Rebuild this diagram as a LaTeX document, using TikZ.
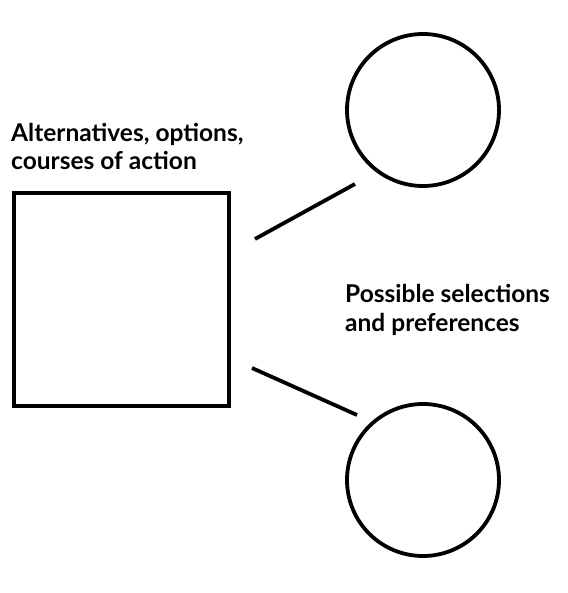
\documentclass[tikz,border=0pt]{standalone}
\usepackage{fontspec}
\setmainfont{Lato}
\begin{document}
\begin{tikzpicture}[x=1pt,y=-1pt,
  shapeline/.style={line width=3.8pt,draw=black},
  lbl/.style={font=\bfseries\fontsize{24.5}{28.5}\selectfont,align=left,anchor=base west,inner sep=0pt}]
\useasboundingbox (0,0) rectangle (567,593);
\node[shapeline,minimum width=215pt,minimum height=213pt,inner sep=0pt] (sq) at (121.5,299.5) {};
\node[shapeline,circle,minimum size=152pt,inner sep=0pt] (c1) at (423,110) {};
\node[shapeline,circle,minimum size=152pt,inner sep=0pt] (c2) at (423,480) {};
\coordinate (a1) at (255,239);
\coordinate (b1) at (355,184);
\coordinate (a2) at (252,368);
\coordinate (b2) at (357,415);
\draw[line width=3.8pt] (a1) -- (b1);
\draw[line width=3.8pt] (a2) -- (b2);
\node[lbl] (t1) at (11,170) {Alternatives, options,\\courses of action};
\node[lbl] (t2) at (345,331) {Possible selections\\and preferences};
\end{tikzpicture}
\end{document}
